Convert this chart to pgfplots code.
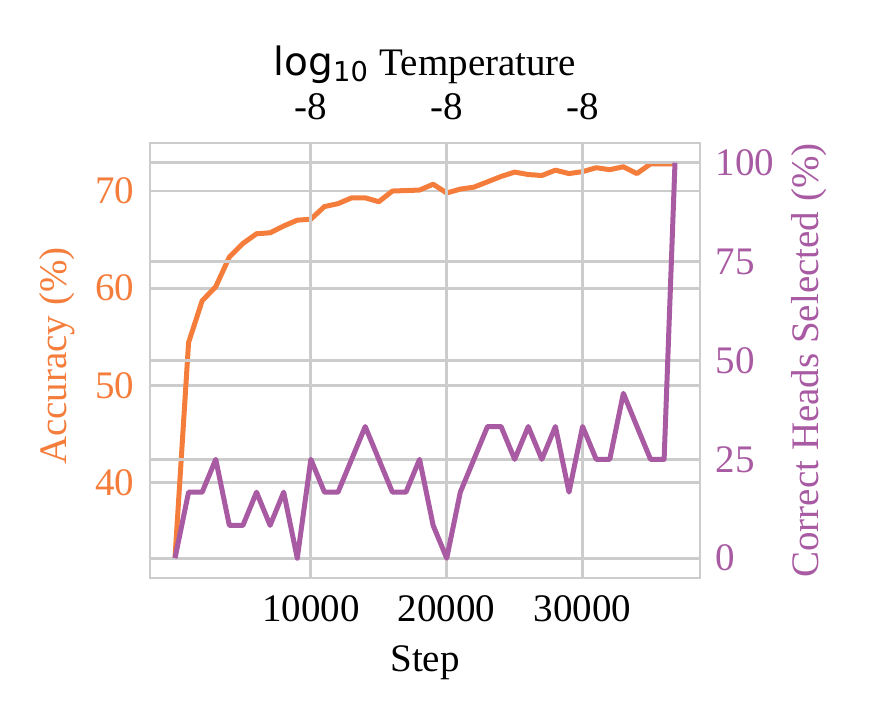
\documentclass[border=0pt]{standalone}
\usepackage{fontspec}
\setmainfont{Liberation Serif}
\newfontfamily\dejavu{DejaVu Sans}
\usepackage{pgfplots}
\pgfplotsset{compat=1.18}
\definecolor{accorange}{RGB}{245,125,60}
\definecolor{headpurple}{RGB}{168,90,162}
\definecolor{gridgray}{RGB}{204,204,204}

\pgfplotstableread{
step acc
0 32.2
1000 54.4
2000 58.7
3000 60.15
4000 63.2
5000 64.6
6000 65.6
7000 65.7
8000 66.4
9000 67.0
10000 67.1
11000 68.4
12000 68.7
13000 69.3
14000 69.3
15000 68.9
16000 70.0
17000 70.05
18000 70.1
19000 70.7
20000 69.8
21000 70.2
22000 70.4
23000 70.95
24000 71.5
25000 71.95
26000 71.7
27000 71.6
28000 72.15
29000 71.8
30000 72.0
31000 72.4
32000 72.2
33000 72.5
34000 71.8
35000 72.8
36000 72.8
36800 72.8
}\acctable

\pgfplotstableread{
step heads
0 0
1000 16.7
2000 16.7
3000 25
4000 8.3
5000 8.3
6000 16.7
7000 8.3
8000 16.7
9000 0
10000 25
11000 16.7
12000 16.7
13000 25
14000 33.3
15000 25
16000 16.7
17000 16.7
18000 25
19000 8.3
20000 0
21000 16.7
22000 25
23000 33.3
24000 33.3
25000 25
26000 33.3
27000 25
28000 33.3
29000 16.7
30000 33.3
31000 25
32000 25
33000 41.7
34000 33.3
35000 25
36000 25
36800 100
}\headstable

\pgfplotsset{
  common/.style={
    at={(0pt,0pt)}, anchor=south west,
    scale only axis, width=137.5pt, height=108.75pt,
    xmin=-1840, xmax=38640,
    xtick={10000,20000,30000},
    major tick length=0pt,
    xmajorgrids, ymajorgrids,
    grid style={gridgray, line width=0.7pt},
    axis line style={gridgray, line width=0.7pt},
    /pgf/number format/assume math mode=true,
    /pgf/number format/set thousands separator={},
    scaled x ticks=false,
  },
}

\begin{document}
\fontsize{9.75}{11.7}\selectfont
\begin{tikzpicture}
\path[use as bounding box] (-37.5pt,-37.25pt) rectangle (180.5pt,144.5pt);
\begin{axis}[
    common,
    ymin=30.15, ymax=74.95,
    ytick={40,50,60,70},
    xtick pos=bottom, ytick pos=left,
    xticklabel style={anchor=base, yshift=-11pt},
    yticklabel style={anchor=east, inner sep=0pt, xshift=-3.75pt, text=accorange},
    xlabel={Step},
    xlabel style={at={(axis description cs:0.5,-0.214)}, anchor=base},
    ylabel={Accuracy (\%)},
    ylabel style={at={(axis description cs:-0.169,0.51)}, rotate=0, anchor=center, text=accorange},
]
\addplot[accorange, line width=1.25pt, line join=round] table[x=step, y=acc] {\acctable};
\end{axis}
\begin{axis}[
    common,
    ymin=-5, ymax=105,
    ytick={0,25,50,75,100},
    xtick pos=top, ytick pos=right,
    xticklabels={-8,-8,-8},
    xticklabel style={anchor=base, yshift=5.75pt},
    yticklabel style={anchor=west, inner sep=0pt, xshift=3.75pt, text=headpurple},
    xlabel={{\dejavu log\textsubscript{10}} Temperature},
    xlabel style={at={(axis description cs:0.5,1.156)}, anchor=base},
    ylabel={Correct Heads Selected (\%)},
    ylabel style={at={(axis description cs:1.198,0.5)}, rotate=0, anchor=center, text=headpurple},
]
\addplot[headpurple, line width=1.25pt, line join=round] table[x=step, y=heads] {\headstable};
\end{axis}
\end{tikzpicture}
\end{document}
